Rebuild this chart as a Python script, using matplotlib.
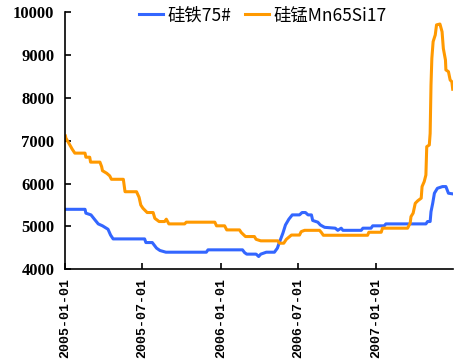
import pandas as pd
import matplotlib.pyplot as plt
import matplotlib.dates as mdates

plt.rcParams['font.family'] = ['Liberation Serif', 'Noto Sans CJK SC', 'DejaVu Sans']

start = pd.Timestamp('2005-01-01')

# 硅铁75#  (day offset from 2005-01-01, price)
fe_days = [0, 46, 48, 60, 68, 77, 87, 100, 106, 112, 186, 189, 204, 214, 222, 236,
           331, 335, 416, 421, 426, 448, 454, 459, 472, 491, 498, 502, 511, 517, 525,
           533, 550, 556, 564, 570, 578, 581, 593, 599, 609, 634, 640, 648, 652, 695,
           699, 718, 722, 749, 753, 847, 851, 857, 859, 863, 867, 874, 886, 894, 900, 910]
fe_vals = [5400, 5400, 5310, 5270, 5170, 5060, 5015, 4935, 4800, 4710, 4710, 4625, 4625,
           4495, 4440, 4400, 4400, 4455, 4455, 4390, 4355, 4355, 4300, 4355, 4400, 4400,
           4495, 4610, 4845, 5035, 5170, 5270, 5270, 5325, 5325, 5270, 5270, 5140, 5100,
           5035, 4980, 4960, 4910, 4960, 4910, 4910, 4960, 4960, 5015, 5015, 5060, 5060,
           5115, 5115, 5345, 5540, 5775, 5890, 5930, 5930, 5775, 5760]

# 硅锰Mn65Si17
mn_days = [0, 1, 8, 16, 22, 46, 48, 57, 59, 81, 85, 87, 97, 104, 108, 136, 140, 167,
           173, 177, 182, 192, 206, 210, 220, 233, 237, 243, 280, 284, 351, 355, 374,
           379, 409, 413, 423, 444, 448, 459, 499, 503, 513, 519, 531, 550, 554, 562,
           597, 601, 606, 710, 713, 742, 745, 804, 810, 812, 817, 822, 828, 836, 838,
           843, 847, 849, 855, 857, 859, 861, 864, 869, 872, 880, 885, 888, 893, 894,
           900, 904, 908, 910]
mn_vals = [7110, 7060, 6940, 6800, 6710, 6710, 6615, 6615, 6500, 6500, 6395, 6300, 6240,
           6180, 6100, 6100, 5810, 5810, 5680, 5500, 5425, 5325, 5325, 5190, 5115, 5115,
           5170, 5060, 5060, 5100, 5100, 5015, 5015, 4920, 4920, 4860, 4765, 4765, 4700,
           4665, 4665, 4610, 4610, 4700, 4800, 4800, 4880, 4910, 4910, 4865, 4795, 4795,
           4865, 4865, 4960, 4960, 5075, 5230, 5310, 5540, 5600, 5660, 5930, 6045, 6200,
           6860, 6900, 7170, 8300, 8920, 9310, 9465, 9700, 9720, 9540, 9150, 8880, 8650,
           8610, 8415, 8375, 8200]

tick_dates = ['2005-01-01', '2005-07-01', '2006-01-01', '2006-07-01', '2007-01-01']

fe_dates = start + pd.to_timedelta(fe_days, unit='D')
mn_dates = start + pd.to_timedelta(mn_days, unit='D')

fig = plt.figure(figsize=(4.61, 3.64), dpi=100)
ax = fig.add_axes([0.142, 0.26, 0.84, 0.707])

ax.plot(fe_dates, fe_vals, color='#3366ff', linewidth=2.2, label='硅铁75#')
ax.plot(mn_dates, mn_vals, color='#ff9900', linewidth=2.2, label='硅锰Mn65Si17')

ax.set_xlim(start, mn_dates[-1])
ax.set_ylim(4000, 10000)
ax.set_yticks(range(4000, 10001, 1000))
ax.set_xticks(pd.to_datetime(tick_dates))
ax.xaxis.set_major_formatter(mdates.DateFormatter('%Y-%m-%d'))

for s in ['top', 'right']:
    ax.spines[s].set_visible(False)
for s in ['left', 'bottom']:
    ax.spines[s].set_linewidth(1.2)
ax.tick_params(direction='in', length=4, width=1.2)
ax.tick_params(axis='y', pad=8)
ax.tick_params(axis='x', pad=6)
for lab in ax.get_xticklabels():
    lab.set_rotation(90)
    lab.set_fontsize(9.5)
    lab.set_fontweight('bold')
    lab.set_family('Liberation Mono')
for lab in ax.get_yticklabels():
    lab.set_fontsize(12)
    lab.set_fontweight('bold')

fig.legend(loc='center', bbox_to_anchor=(0.57, 0.958), ncol=2, frameon=False,
           prop={'family': ['Noto Sans CJK SC', 'DejaVu Sans'], 'size': 12.5},
           handlelength=1.4, handletextpad=0.25, columnspacing=0.75, borderpad=0)

fig.savefig('out.png', dpi=100)
